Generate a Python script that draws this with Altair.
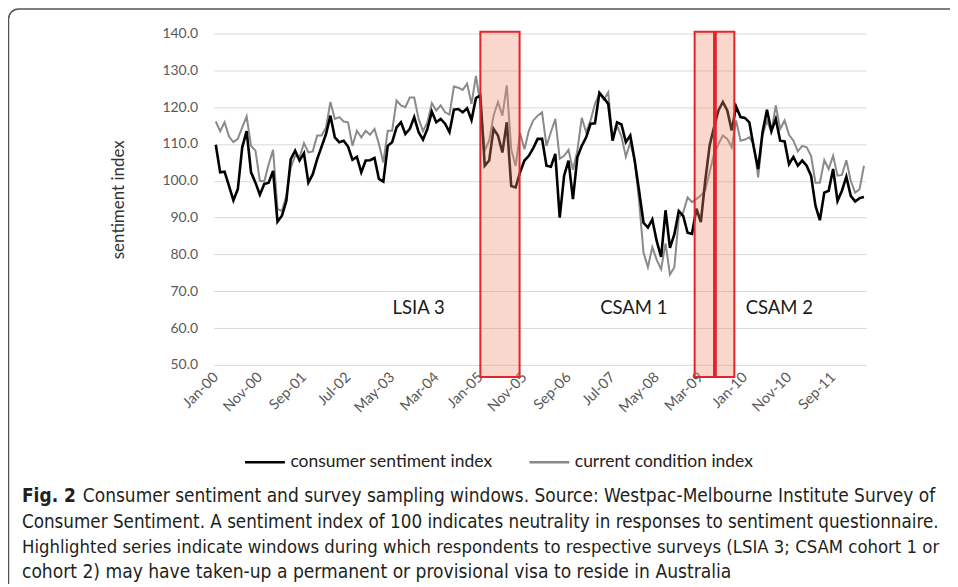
import json
import altair as alt
import pandas as pd

# ---------------- data ----------------
month_labels = ["Jan-00", "Nov-00", "Sep-01", "Jul-02", "May-03", "Mar-04", "Jan-05",
                "Nov-05", "Sep-06", "Jul-07", "May-08", "Mar-09", "Jan-10", "Nov-10", "Sep-11"]

consumer_sentiment = [
    109.8, 102.3, 102.5, 98.6, 94.7, 97.7, 109.1, 113.5, 102.3, 99.5,
    96.2, 99.1, 99.5, 102.7, 88.9, 90.5, 94.5, 105.9, 108.2, 105.5,
    107.5, 99.5, 101.8, 105.9, 109.3, 112.7, 117.7, 111.8, 110.5, 110.9,
    109.3, 105.7, 106.5, 102.3, 105.5, 105.6, 106.2, 100.5, 99.8, 109.5,
    110.5, 114.5, 115.9, 112.7, 114.1, 117.3, 113.2, 111.2, 114.1, 118.8,
    115.9, 116.8, 115.5, 113.2, 119.3, 119.5, 118.6, 119.7, 116.5, 122.5,
    123.2, 104.1, 105.5, 114.1, 112.3, 107.7, 115.9, 98.6, 98.2, 102.3,
    105.5, 106.8, 108.9, 111.4, 111.4, 104.1, 103.8, 107.3, 90.0, 101.4,
    105.5, 95.0, 106.4, 109.5, 111.8, 115.5, 115.6, 123.9, 122.5, 120.9,
    110.9, 115.9, 115.3, 110.5, 112.3, 105.5, 97.3, 88.6, 87.3, 89.5,
    83.6, 79.3, 92.0, 81.8, 85.5, 91.8, 90.5, 85.9, 85.6, 92.4,
    88.8, 100.0, 109.6, 114.6, 119.1, 121.4, 119.1, 113.7, 120.2, 117.3,
    117.1, 115.9, 109.1, 103.2, 113.2, 119.3, 113.5, 116.8, 110.9, 110.7,
    104.5, 106.5, 104.1, 105.5, 104.1, 101.4, 93.2, 89.3, 96.8, 97.3,
    103.2, 94.5, 97.3, 101.1, 95.9, 94.4, 95.3, 95.6,
]

current_condition = [
    116.1, 113.5, 115.9, 112.0, 110.5, 111.4, 114.5, 117.5, 109.5, 108.2,
    100.0, 99.8, 104.5, 108.4, 92.3, 91.8, 95.9, 103.6, 106.8, 106.4,
    110.2, 107.7, 108.0, 112.3, 112.3, 114.5, 121.4, 116.8, 117.3, 116.1,
    115.9, 109.5, 113.6, 111.8, 113.6, 112.5, 114.1, 110.0, 105.0, 113.6,
    113.6, 121.8, 120.5, 120.0, 122.6, 122.6, 116.8, 113.5, 115.9, 121.1,
    119.1, 120.5, 118.6, 118.0, 125.6, 125.3, 124.7, 126.4, 120.9, 128.5,
    121.0, 108.2, 110.9, 117.7, 121.4, 117.7, 125.9, 108.6, 104.0, 113.0,
    108.6, 113.6, 116.4, 117.7, 118.6, 109.5, 113.2, 116.8, 106.0, 106.8,
    108.4, 103.0, 108.2, 117.1, 113.2, 116.4, 120.9, 123.6, 122.0, 124.0,
    111.0, 115.0, 112.0, 106.5, 110.5, 105.5, 94.5, 80.5, 76.5, 82.0,
    78.5, 76.0, 83.0, 74.5, 76.5, 90.0, 91.4, 95.5, 94.2, 95.1,
    96.0, 97.4, 102.3, 107.3, 110.0, 112.3, 111.4, 109.1, 116.4, 110.9,
    111.2, 111.8, 110.0, 100.9, 112.3, 116.4, 113.2, 120.5, 114.1, 116.4,
    112.5, 110.9, 108.0, 109.5, 109.1, 106.8, 99.5, 99.5, 105.6, 103.2,
    106.8, 101.4, 101.6, 105.6, 100.0, 96.8, 97.7, 104.1,
]

series_names = ["consumer sentiment index", "current condition index"]

window_names = ["LSIA 3", "CSAM 1", "CSAM 2"]
window_start = [60.0, 108.6, 113.4]
window_end = [68.9, 113.0, 117.6]
window_low = [46.7, 46.7, 46.7]
window_high = [140.5, 140.5, 140.5]

label_names = ["LSIA 3", "CSAM 1", "CSAM 2"]
label_month = [46.0, 94.8, 127.8]
label_value = [65.5, 65.5, 65.5]

caption_lines = [
    "Consumer sentiment and survey sampling windows. Source: Westpac-Melbourne Institute Survey of",
    "Consumer Sentiment. A sentiment index of 100 indicates neutrality in responses to sentiment questionnaire.",
    "Highlighted series indicate windows during which respondents to respective surveys (LSIA 3; CSAM cohort 1 or",
    "cohort 2) may have taken-up a permanent or provisional visa to reside in Australia",
]
caption_sizes = [19.0, 18.7, 18.4, 19.1]

# ---------------- tables ----------------
n = len(consumer_sentiment)
df_cs = pd.DataFrame({"month": list(range(n)), "value": consumer_sentiment, "series": series_names[0]})
df_cc = pd.DataFrame({"month": list(range(len(current_condition))), "value": current_condition, "series": series_names[1]})
df_win = pd.DataFrame({"name": window_names, "start": window_start, "end": window_end,
                       "low": window_low, "high": window_high})
df_lab = pd.DataFrame({"name": label_names, "month": label_month, "value": label_value})

FONT = "Lato"
CAP_FONT = "Liberation Sans Narrow, DejaVu Sans Condensed, sans-serif"

xscale = alt.Scale(domain=[-0.5, n - 0.5], nice=False, zero=False)
yscale = alt.Scale(domain=[50, 140], nice=False, zero=False)
color_scale = alt.Scale(domain=series_names, range=["#000000", "#8a8a8a"])

label_expr = json.dumps(month_labels) + "[round(datum.value / 10)]"
x_values = list(range(0, 10 * len(month_labels), 10))
y_values = list(range(50, 141, 10))

x_axis = alt.Axis(values=x_values, tickCount=len(x_values) + 5, labelExpr=label_expr,
                  labelAngle=-45, labelAlign="right", labelBaseline="middle", labelPadding=10,
                  labelOverlap=False, grid=False, domain=False, ticks=False, title=None,
                  labelFont=FONT, labelFontSize=14.5, labelColor="#595959")
y_axis = alt.Axis(values=y_values, tickCount=len(y_values) + 5, format=".1f", grid=True,
                  gridColor="#d9d9d9", domain=False, ticks=False, labelPadding=16,
                  labelOverlap=False, labelFont=FONT, labelFontSize=14,
                  labelColor="#595959", title="sentiment index", titleFont=FONT, titleFontSize=17,
                  titleFontWeight="normal", titleColor="#333333", titlePadding=34)

legend = alt.Legend(title=None, orient="none", legendX=30, legendY=408, direction="horizontal",
                    symbolType="stroke", symbolSize=1600, symbolStrokeWidth=2.5,
                    labelFont=FONT, labelFontSize=17.5, labelColor="#222222", labelOffset=4,
                    labelLimit=400, columnPadding=31)

grey_line = alt.Chart(df_cc).mark_line(strokeWidth=2).encode(
    x=alt.X("month:Q", scale=xscale, axis=x_axis),
    y=alt.Y("value:Q", scale=yscale, axis=y_axis),
    color=alt.Color("series:N", scale=color_scale, legend=legend),
)
black_line = alt.Chart(df_cs).mark_line(strokeWidth=2.6).encode(
    x=alt.X("month:Q", scale=xscale, axis=x_axis),
    y=alt.Y("value:Q", scale=yscale, axis=y_axis),
    color=alt.Color("series:N", scale=color_scale, legend=legend),
)

windows = alt.Chart(df_win).mark_rect(fill="#F08C6C", fillOpacity=0.35, stroke="#E3242B",
                                      strokeWidth=2).encode(
    x=alt.X("start:Q", scale=xscale, axis=x_axis), x2="end:Q",
    y=alt.Y("low:Q", scale=yscale, axis=y_axis), y2="high:Q",
)

labels = alt.Chart(df_lab).mark_text(font=FONT, fontSize=18.5, color="#1a1a1a").encode(
    x=alt.X("month:Q", scale=xscale, axis=x_axis),
    y=alt.Y("value:Q", scale=yscale, axis=y_axis),
    text="name:N",
)

one = alt.Data(values=[{}])
border = alt.Chart(one).mark_rect(fillOpacity=0, stroke="#555555", strokeWidth=1.5,
                                  cornerRadius=10).encode(
    x=alt.value(-205.5), x2=alt.value(900), y=alt.value(-24.5), y2=alt.value(700))

cap_x = -192
cap_y = [463, 489, 515, 540]
cap_layers = [
    alt.Chart(one).mark_text(font=CAP_FONT, fontSize=caption_sizes[0], fontWeight="bold",
                             align="left", baseline="middle", color="#231f20").encode(
        x=alt.value(cap_x), y=alt.value(cap_y[0]), text=alt.value("Fig. 2")),
    alt.Chart(one).mark_text(font=CAP_FONT, fontSize=caption_sizes[0], align="left",
                             baseline="middle", color="#231f20").encode(
        x=alt.value(cap_x + 61), y=alt.value(cap_y[0]), text=alt.value(caption_lines[0])),
]
for i in range(1, 4):
    cap_layers.append(
        alt.Chart(one).mark_text(font=CAP_FONT, fontSize=caption_sizes[i], align="left",
                                 baseline="middle", color="#231f20").encode(
            x=alt.value(cap_x), y=alt.value(cap_y[i]), text=alt.value(caption_lines[i])))

chart = alt.layer(grey_line, black_line, windows, labels, border, *cap_layers).properties(
    width=654, height=332,
    autosize=alt.AutoSizeParams(type="none"),
    padding={"left": 206, "top": 25, "right": 84, "bottom": 219},
    background="white",
).configure_view(stroke=None)

chart.save("out.html", embed_options={"renderer": "svg", "actions": False})
